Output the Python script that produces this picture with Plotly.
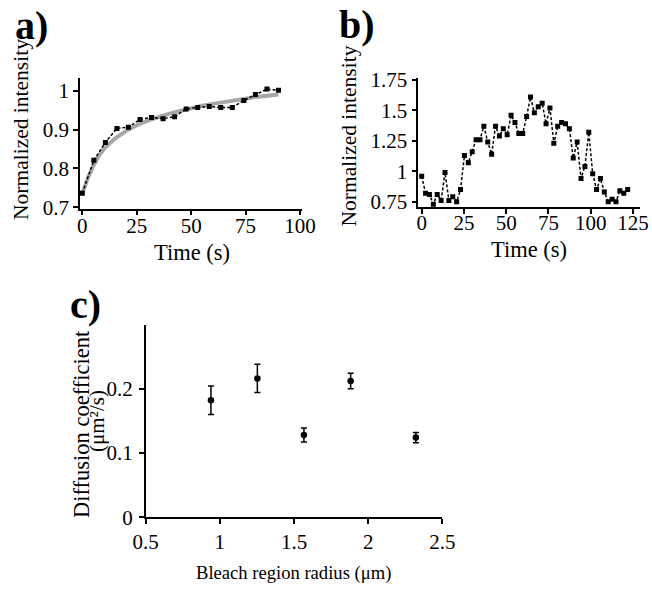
import plotly.graph_objects as go

# ---------------- data ----------------
# panel a: FRAP recovery
a_time = [0, 5.3, 10.6, 15.9, 21.2, 26.5, 31.8, 37.1, 42.4, 47.7, 53.0, 58.3, 63.6, 68.9, 74.2, 79.5, 84.8, 90.1]
a_intensity = [0.736, 0.821, 0.867, 0.903, 0.906, 0.926, 0.931, 0.928, 0.933, 0.953, 0.957, 0.959, 0.957, 0.957, 0.975, 0.990, 1.004, 1.001]
a_fit_time = [0, 2.5, 5, 7.5, 10, 15, 20, 25, 30, 35, 40, 45, 50, 55, 60, 65, 70, 75, 80, 85, 90]
a_fit_value = [0.735, 0.775, 0.806, 0.832, 0.851, 0.877, 0.896, 0.911, 0.923, 0.933, 0.941, 0.948, 0.955, 0.961, 0.966, 0.971, 0.976, 0.980, 0.984, 0.987, 0.990]

# panel b: intensity trace
b_time = [0, 2.3, 4.6, 6.9, 9.2, 11.5, 13.8, 16.1, 18.4, 20.7, 23.0, 25.3, 27.6, 29.9, 32.2, 34.5,
          36.8, 39.1, 41.4, 43.7, 46.0, 48.3, 50.6, 52.9, 55.2, 57.5, 59.8, 62.1, 64.4, 66.7, 69.0,
          71.3, 73.6, 75.9, 78.2, 80.5, 82.8, 85.1, 87.4, 89.7, 92.0, 94.3, 96.6, 98.9, 101.2, 103.5,
          105.8, 108.1, 110.4, 112.7, 115.0, 117.3, 119.6, 121.9]
b_intensity = [0.96, 0.82, 0.81, 0.73, 0.81, 0.76, 0.99, 0.76, 0.79, 0.75, 0.85, 1.13, 1.07, 1.16,
               1.26, 1.26, 1.37, 1.24, 1.14, 1.37, 1.29, 1.35, 1.30, 1.46, 1.40, 1.31, 1.31, 1.45,
               1.61, 1.48, 1.53, 1.56, 1.39, 1.52, 1.23, 1.37, 1.40, 1.39, 1.35, 1.11, 1.24, 0.94,
               1.04, 1.32, 0.98, 0.85, 0.94, 0.83, 0.75, 0.77, 0.75, 0.84, 0.82, 0.85]

# panel c: diffusion coefficient vs bleach radius
c_radius = [0.94, 1.253, 1.567, 1.882, 2.322]
c_diffusion = [0.182, 0.216, 0.128, 0.212, 0.124]
c_error = [0.022, 0.022, 0.011, 0.012, 0.008]

W, H = 652, 589
FONT = "Liberation Serif, Times New Roman, serif"


def px(x):
    return x / W


def py(y):
    return 1 - y / H


fig = go.Figure()

# panel a
fig.add_trace(go.Scatter(x=a_fit_time, y=a_fit_value, mode="lines",
                         line=dict(color="#a6a6a6", width=4), xaxis="x", yaxis="y",
                         showlegend=False, hoverinfo="skip"))
fig.add_trace(go.Scatter(x=a_time, y=a_intensity, mode="lines+markers",
                         line=dict(color="black", width=1.5, dash="3px,2px"),
                         marker=dict(symbol="square", size=5, color="black"),
                         xaxis="x", yaxis="y", showlegend=False))
# panel b
fig.add_trace(go.Scatter(x=b_time, y=b_intensity, mode="lines+markers",
                         line=dict(color="black", width=1.5, dash="3px,2px"),
                         marker=dict(symbol="square", size=5, color="black"),
                         xaxis="x2", yaxis="y2", showlegend=False))
# panel c
fig.add_trace(go.Scatter(x=c_radius, y=c_diffusion, mode="markers",
                         marker=dict(symbol="circle", size=6.5, color="black"),
                         error_y=dict(type="data", array=c_error, visible=True,
                                      color="black", thickness=1.5, width=3),
                         xaxis="x3", yaxis="y3", showlegend=False))

axis_common = dict(showline=True, linecolor="black", linewidth=1.5, ticks="outside",
                   ticklen=5, tickwidth=1.5, tickcolor="black", showgrid=False,
                   zeroline=False, automargin=False,
                   tickfont=dict(family=FONT, size=21, color="black"))

fig.update_layout(
    width=W, height=H, margin=dict(l=0, r=0, t=0, b=0, autoexpand=False),
    paper_bgcolor="white", plot_bgcolor="white",
    font=dict(family=FONT, color="black"),
    xaxis=dict(domain=[px(80), px(302)], range=[-1.06, 100.9], anchor="y",
               tickvals=[0, 25, 50, 75, 100], ticklabelstandoff=-8, **axis_common),
    yaxis=dict(domain=[py(208.7), py(78)], range=[0.6964, 1.0326], anchor="x",
               tickvals=[0.7, 0.8, 0.9, 1.0], ticktext=["0.7", "0.8", "0.9", "1"], **axis_common),
    xaxis2=dict(domain=[px(418.3), px(640)], range=[-2.0, 129.2], anchor="y2",
                tickvals=[0, 25, 50, 75, 100, 125], ticklabelstandoff=-9, **axis_common),
    yaxis2=dict(domain=[py(207.3), py(77.7)], range=[0.704, 1.769], anchor="x2",
                tickvals=[0.75, 1.0, 1.25, 1.5, 1.75], ticktext=["0.75", "1", "1.25", "1.5", "1.75"],
                **axis_common),
    xaxis3=dict(domain=[px(145.7), px(442.3)], range=[0.5, 2.5], anchor="y3",
                tickvals=[0.5, 1, 1.5, 2, 2.5], ticktext=["0.5", "1", "1.5", "2", "2.5"], **axis_common),
    yaxis3=dict(domain=[py(517.3), py(325)], range=[0, 0.299], anchor="x3",
                tickvals=[0, 0.1, 0.2], ticktext=["0", "0.1", "0.2"], ticklabelstandoff=2,
                **axis_common),
)


def ann(text, x, y, size=21, angle=0, bold=False, yanchor="middle"):
    if bold:
        text = "<b>" + text + "</b>"
    fig.add_annotation(text=text, x=px(x), y=py(y), xref="paper", yref="paper",
                       showarrow=False, textangle=angle, xanchor="center", yanchor=yanchor,
                       font=dict(family=FONT, size=size, color="black"))


# panel letters
ann("a)", 31, 1, size=40, bold=True, yanchor="top")
ann("b)", 357, 0, size=40, bold=True, yanchor="top")
ann("c)", 86, 280, size=40, bold=True, yanchor="top")

# axis titles
ann("Normalized intensity", 21, 130, size=21.5, angle=-90)
ann("Time (s)", 191.7, 252, size=22.5)
ann("Normalized intensity", 348.5, 136, size=21.5, angle=-90)
ann("Time (s)", 529, 249, size=22.5)
ann("Diffusion coefficient", 81, 424, size=22.5, angle=-90)
ann("(μm²/s)", 97, 421, size=21, angle=-90)
ann("Bleach region radius (μm)", 293.3, 573, size=18.6)

fig.write_html("out.html")
